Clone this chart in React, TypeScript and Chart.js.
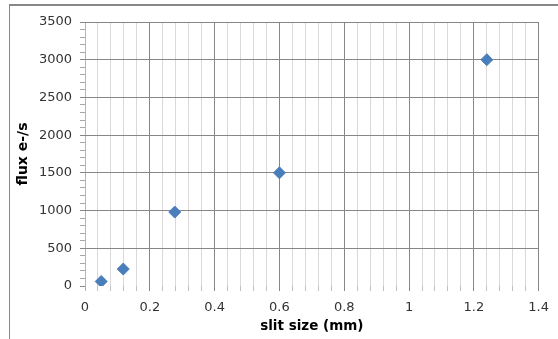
import React, { useEffect, useRef } from "react";
import { Chart, registerables } from "chart.js";

Chart.register(...registerables);

// Measured flux against slit width
const slitSizes = [0.05, 0.118, 0.277, 0.6, 1.24];
const fluxValues = [60, 225, 980, 1500, 3000];

const xTitle = "slit size (mm)";
const yTitle = "flux e-/s";

const MAJOR_GRID = "#878787";
const MINOR_GRID = "#d9d9d9";
const TEXT = "#333333";

const isMultiple = (v: number, step: number) =>
  Math.abs(v / step - Math.round(v / step)) < 1e-6;

// Thin outer frame around the chart object (top and left edges)
const framePlugin = {
  id: "frame",
  afterDraw(chart: Chart) {
    const ctx = chart.ctx;
    ctx.save();
    ctx.fillStyle = "#878787";
    ctx.fillRect(9, 4, chart.width - 9, 2);
    ctx.fillRect(9, 4, 1, chart.height - 4);
    ctx.restore();
  },
};

export default function App() {
  const canvasRef = useRef<HTMLCanvasElement | null>(null);

  useEffect(() => {
    if (!canvasRef.current) return;
    const chart = new Chart(canvasRef.current, {
      type: "scatter",
      data: {
        datasets: [
          {
            label: "flux",
            data: slitSizes.map((x, i) => ({ x, y: fluxValues[i] })),
            pointStyle: "rectRot",
            pointRadius: 6,
            pointHoverRadius: 6,
            backgroundColor: "#4a7ebb",
            borderColor: "#4a7ebb",
            borderWidth: 1,
          },
        ],
      },
      options: {
        responsive: false,
        animation: false,
        layout: { padding: { top: 22, right: 18, left: 0, bottom: 0 } },
        plugins: {
          legend: { display: false },
          tooltip: { enabled: false },
        },
        scales: {
          x: {
            type: "linear",
            min: 0,
            max: 1.4,
            afterFit: (scale: any) => {
              scale.height = 53;
            },
            border: { display: false },
            grid: {
              color: (ctx: any) => {
                const v = ctx.tick ? ctx.tick.value : 0;
                if (Math.abs(v) < 1e-9) return "#b5b5b5";
                return isMultiple(v, 0.2) ? MAJOR_GRID : MINOR_GRID;
              },
              tickColor: (ctx: any) => {
                const v = ctx.tick ? ctx.tick.value : 0;
                if (Math.abs(v) < 1e-9) return "#b5b5b5";
                return isMultiple(v, 0.2) ? MAJOR_GRID : "#bfbfbf";
              },
              tickLength: 5,
              lineWidth: 1,
            },
            ticks: {
              stepSize: 0.04,
              autoSkip: false,
              maxRotation: 0,
              minRotation: 0,
              padding: 9,
              color: TEXT,
              font: { family: "DejaVu Sans", size: 13 },
              callback: (value: any) => {
                const v = Number(value);
                return isMultiple(v, 0.2) ? String(Math.round(v * 10) / 10) : "";
              },
            },
            title: {
              display: true,
              text: xTitle,
              color: "#000000",
              font: { family: "DejaVu Sans", size: 13.5, weight: "bold" },
              padding: { top: 0, bottom: 4 },
            },
          },
          y: {
            min: 0,
            max: 3500,
            afterFit: (scale: any) => {
              scale.width = 85;
            },
            border: { display: false },
            grid: {
              color: (ctx: any) => {
                const v = ctx.tick ? ctx.tick.value : 0;
                if (v === 0) return "rgba(0,0,0,0)";
                return isMultiple(v, 500) ? MAJOR_GRID : "rgba(0,0,0,0)";
              },
              tickColor: (ctx: any) => {
                const v = ctx.tick ? ctx.tick.value : 0;
                return isMultiple(v, 500) ? MAJOR_GRID : "#a6a6a6";
              },
              tickLength: 5,
              lineWidth: 1,
            },
            ticks: {
              stepSize: 100,
              autoSkip: false,
              padding: 8,
              color: TEXT,
              font: { family: "DejaVu Sans", size: 13 },
              callback: (value: any) => {
                const v = Number(value);
                return isMultiple(v, 500) ? String(v) : "";
              },
            },
            title: {
              display: true,
              text: yTitle,
              color: "#000000",
              font: { family: "DejaVu Sans", size: 14, weight: "bold" },
              padding: { top: 15, bottom: 0 },
            },
          },
        },
      },
      plugins: [framePlugin],
    });
    return () => chart.destroy();
  }, []);

  return (
    <div style={{ position: "fixed", left: 0, top: 0, width: 558, height: 339, background: "#ffffff" }}>
      <canvas ref={canvasRef} width={558} height={339} />
    </div>
  );
}
